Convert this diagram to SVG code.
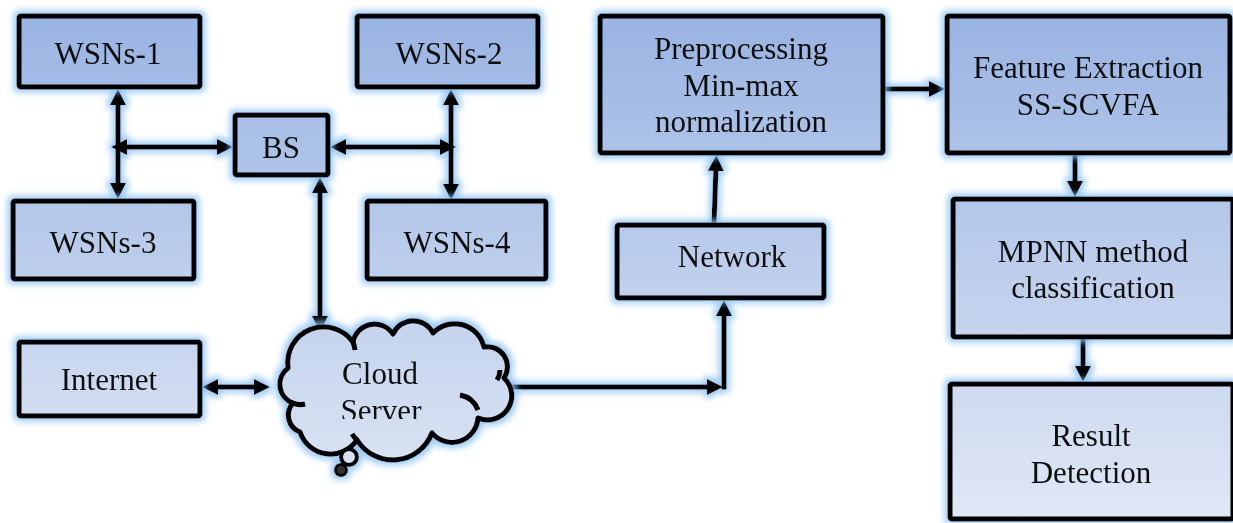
<svg xmlns="http://www.w3.org/2000/svg" width="1233" height="523" viewBox="0 0 1233 523">
<style>
.box{fill:url(#fillg);stroke:#000;stroke-width:5;stroke-linejoin:round}
.t{font-family:"Liberation Serif","Times New Roman",serif;font-size:31px;fill:#111;text-anchor:middle}
.ln{fill:none;stroke:#000;stroke-width:5}
.ar{marker-end:url(#ah)}
.ar2{marker-start:url(#ah);marker-end:url(#ah)}
</style>
<defs>
<linearGradient id="fillg" gradientUnits="userSpaceOnUse" x1="0" y1="0" x2="0" y2="523">
<stop offset="0" stop-color="#97b2e2"/>
<stop offset="1" stop-color="#e1e8f5"/>
</linearGradient>
<filter id="glow" x="-20%" y="-20%" width="140%" height="140%">
<feMorphology in="SourceAlpha" operator="dilate" radius="3" result="d"/>
<feGaussianBlur in="d" stdDeviation="3" result="b"/>
<feFlood flood-color="#8ec2f2" flood-opacity="0.85"/>
<feComposite in2="b" operator="in" result="g"/>
<feMerge><feMergeNode in="g"/><feMergeNode in="SourceGraphic"/></feMerge>
</filter>
<marker id="ah" viewBox="0 0 16 16" refX="4" refY="8" markerWidth="16" markerHeight="16" markerUnits="userSpaceOnUse" orient="auto-start-reverse">
<path d="M0,0 L16,8 L0,16 z" fill="#000"/>
</marker>
<clipPath id="srvclip"><rect x="300" y="330" width="200" height="89"/></clipPath>
<clipPath id="netclip"><rect x="615" y="223" width="212" height="66"/></clipPath>
</defs>

<g id="connectors" filter="url(#glow)">
<path class="ln ar2" d="M118,101 L118,187"/>
<path class="ln ar2" d="M123,147 L221,147"/>
<path class="ln ar2" d="M342,147 L444,147"/>
<path class="ln ar2" d="M451,101 L451,188"/>
<path class="ln ar2" d="M320,189 L320,320"/>
<path class="ln ar2" d="M214,387 L258,387"/>
<path class="ln ar" d="M510,387 L711,387"/>
<path class="ln ar" d="M724,389.5 L724,312"/>
<path class="ln ar" d="M714,223 L716,167"/>
<path class="ln ar" d="M885,89 L933,89"/>
<path class="ln ar" d="M1075,155 L1075,185"/>
<path class="ln ar" d="M1083,339 L1083,370"/>
</g>

<g id="wsn1" filter="url(#glow)">
<rect class="box" x="19" y="16" width="181" height="71" rx="2"/>
<text class="t" x="108" y="64">WSNs-1</text>
</g>
<g id="wsn2" filter="url(#glow)">
<rect class="box" x="357" y="16" width="181" height="71" rx="2"/>
<text class="t" x="449" y="64">WSNs-2</text>
</g>
<g id="bs" filter="url(#glow)">
<rect class="box" x="235" y="115" width="93" height="60" rx="2"/>
<text class="t" x="281" y="158">BS</text>
</g>
<g id="wsn3" filter="url(#glow)">
<rect class="box" x="13" y="201" width="181" height="78" rx="2"/>
<text class="t" x="103" y="253">WSNs-3</text>
</g>
<g id="wsn4" filter="url(#glow)">
<rect class="box" x="367" y="201" width="179" height="78" rx="2"/>
<text class="t" x="457" y="253">WSNs-4</text>
</g>
<g id="internet" filter="url(#glow)">
<rect class="box" x="19" y="342" width="181" height="74" rx="2"/>
<text class="t" x="109" y="390">Internet</text>
</g>
<g id="cloud" filter="url(#glow)">
<path class="box" d="M288,368 A36,36 0 0 1 353,342 A22,22 0 0 1 393,334 A22,22 0 0 1 433,333 A30,30 0 0 1 484,347 A20,20 0 0 1 504,378 A24.2,24.2 0 0 1 478,418 A26,26 0 0 1 432,433 A42,42 0 0 1 357,440 A32,32 0 0 1 300,432 A18,18 0 0 1 293,403 A20,20 0 0 1 288,368 Z"/>
<path class="ln" d="M497,380 A20,20 0 0 0 500,370"/>
<path class="ln" d="M460,395 A24,24 0 0 1 478,410"/>
<path class="ln" d="M293,403 A18,18 0 0 0 305,404"/>
<path class="ln" d="M353,342 A36,36 0 0 1 355,350"/>
<path class="ln" d="M357,440 A30,30 0 0 1 352,434"/>
<circle cx="349" cy="457" r="8" fill="url(#fillg)" stroke="#000" stroke-width="4"/>
<circle cx="341" cy="470" r="5.5" fill="#333" stroke="#000" stroke-width="3"/>
<text class="t" x="380" y="384">Cloud</text>
<text class="t" x="381" y="421" clip-path="url(#srvclip)">Server</text>
</g>
<g id="network" filter="url(#glow)">
<rect class="box" x="617" y="225" width="207" height="73" rx="2"/>
<text class="t" x="732" y="267">Network</text>
</g>
<g id="preprocessing" filter="url(#glow)">
<rect class="box" x="600" y="16" width="283" height="137" rx="2"/>
<text class="t" x="741" y="59">Preprocessing</text>
<text class="t" x="741" y="96">Min-max</text>
<text class="t" x="741" y="132">normalization</text>
</g>
<g id="feature" filter="url(#glow)">
<rect class="box" x="947" y="16" width="283" height="137" rx="2"/>
<text class="t" x="1088" y="78">Feature Extraction</text>
<text class="t" x="1088" y="115">SS-SCVFA</text>
</g>
<g id="mpnn" filter="url(#glow)">
<rect class="box" x="953" y="199" width="280" height="138" rx="2"/>
<text class="t" x="1093" y="262">MPNN method</text>
<text class="t" x="1093" y="298">classification</text>
</g>
<g id="result" filter="url(#glow)">
<rect class="box" x="950" y="384" width="283" height="135" rx="2"/>
<text class="t" x="1091" y="446">Result</text>
<text class="t" x="1091" y="483">Detection</text>
</g>
</svg>
